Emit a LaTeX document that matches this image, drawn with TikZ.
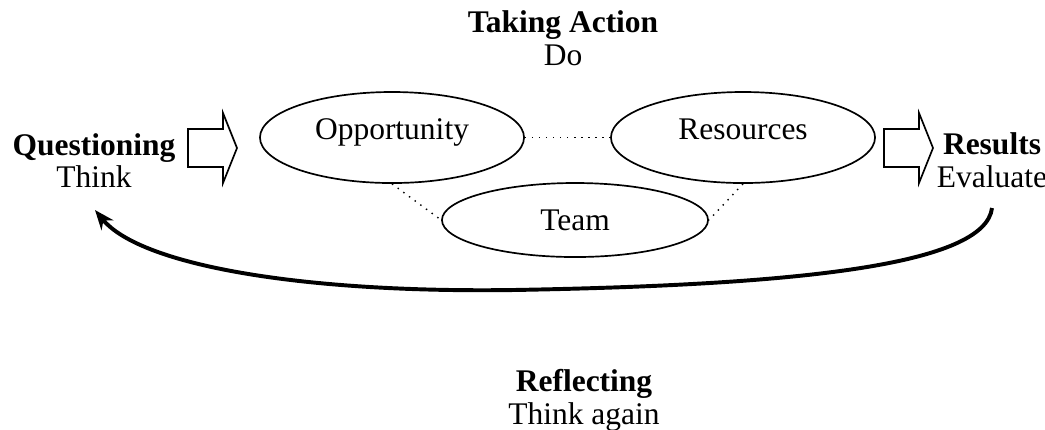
\documentclass[tikz,border=0pt]{standalone}
\usepackage{fontspec}
\setmainfont{Liberation Serif}
\usetikzlibrary{shapes.geometric}
\usetikzlibrary{arrows.meta}

\begin{document}
\begin{tikzpicture}[x=0.0125cm, y=-0.0125cm,
  font=\fontsize{11.2}{11.6}\selectfont,
  oval/.style={draw, ellipse, line width=0.6pt, inner sep=0pt},
  stage/.style={align=center, inner sep=0pt},
  hollow/.style={draw, line width=0.6pt, line join=miter},
  link/.style={dotted, line width=0.5pt}]

\useasboundingbox (0,0) rectangle (1045,429);

% stages of the cycle
\node[stage] (act) at (563,38) {\textbf{Taking Action}\\Do};
\node[stage] (quest) at (94,160.5) {\textbf{Questioning}\\Think};
\node[stage] (res) at (992,160.5) {\textbf{Results}\\Evaluate};
\node[stage] (refl) at (584,400.5) {\textbf{Reflecting}\\Think again};

% the three parts of taking action
\node[oval, minimum width=3.3cm, minimum height=1.1375cm,
  text height=0.25cm, text depth=0.2cm] (opp) at (392,137.5) {Opportunity};
\node[oval, minimum width=3.3cm, minimum height=1.1375cm,
  text height=0.25cm, text depth=0.2cm] (resrc) at (743,137.5) {Resources};
\node[oval, minimum width=3.325cm, minimum height=0.925cm] (team) at (575,220) {Team};

\draw[link] (opp.east) -- (resrc.west);
\draw[link] (opp.south) -- (team.west);
\draw[link] (resrc.south) -- (team.east);

% block arrows
\foreach \x in {188, 884}
\draw[hollow] (\x,129) -- ++(35,0) -- ++(0,-16) -- ++(14,35) -- ++(-14,35)
  -- ++(0,-16) -- ++(-35,0) -- cycle;

% way back
\coordinate (from) at (992,208);
\coordinate (low) at (513,290);
\coordinate (to) at (95,210);
\draw[line width=1.4pt, -{Stealth[length=7pt, width=5.5pt]}]
  (from) .. controls (985,265) and (800,285) .. (low)
  .. controls (300,293) and (140,265) .. (to);

\end{tikzpicture}
\end{document}
